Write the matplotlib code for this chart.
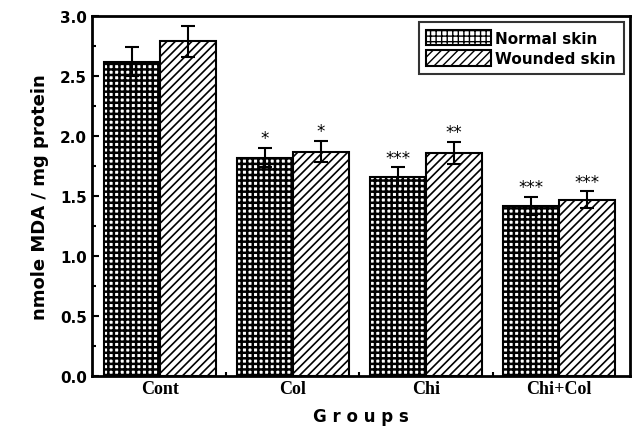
import numpy as np
import matplotlib.pyplot as plt

groups = ['Cont', 'Col', 'Chi', 'Chi+Col']
normal = [2.62, 1.82, 1.66, 1.42]
normal_err = [0.12, 0.08, 0.08, 0.075]
wounded = [2.79, 1.87, 1.86, 1.47]
wounded_err = [0.13, 0.09, 0.09, 0.07]
normal_sig = ['', '*', '***', '***']
wounded_sig = ['', '*', '**', '***']

fig = plt.figure(figsize=(6.38, 4.35), dpi=100)
ax = fig.add_axes([0.144, 0.133, 0.843, 0.828])

x = np.arange(len(groups))
w = 0.42

with plt.rc_context({'hatch.linewidth': 1.8}):
    ax.bar(x - w / 2, normal, w, color='white', edgecolor='black', hatch='+++',
           linewidth=1.5, label='Normal skin')
with plt.rc_context({'hatch.linewidth': 1.2}):
    ax.bar(x + w / 2, wounded, w, color='white', edgecolor='black', hatch='////',
           linewidth=1.5, label='Wounded skin')
ax.errorbar(x - w / 2, normal, yerr=normal_err, fmt='none', ecolor='black',
            capsize=5, elinewidth=1.5, capthick=1.5)
ax.errorbar(x + w / 2, wounded, yerr=wounded_err, fmt='none', ecolor='black',
            capsize=5, elinewidth=1.5, capthick=1.5)

for xi, v, e, s in zip(x - w / 2, normal, normal_err, normal_sig):
    ax.text(xi, v + e + 0.005, s, ha='center', va='bottom', fontsize=12)
for xi, v, e, s in zip(x + w / 2, wounded, wounded_err, wounded_sig):
    ax.text(xi, v + e + 0.005, s, ha='center', va='bottom', fontsize=12)

ax.set_xlim(-0.51, 3.53)
ax.set_ylim(0, 3.0)
ax.set_yticks(np.arange(0, 3.01, 0.5))
ax.set_yticklabels([f'{t:.1f}' for t in np.arange(0, 3.01, 0.5)],
                   fontweight='bold', fontsize=11)
ax.set_yticks(np.arange(0.25, 3.0, 0.5), minor=True)
ax.set_xticks(x)
ax.set_xticklabels(groups, fontfamily='Liberation Serif', fontweight='bold', fontsize=13)
ax.set_xticks(x[:-1] + 0.5, minor=True)
ax.tick_params(axis='both', which='both', direction='in', width=1.5)
ax.tick_params(axis='x', which='major', length=0, pad=3)
ax.tick_params(axis='y', which='major', length=5)
ax.tick_params(axis='both', which='minor', length=3)

for sp in ax.spines.values():
    sp.set_linewidth(2)

ax.set_ylabel('nmole MDA / mg protein', fontweight='bold', fontsize=13, labelpad=8)
ax.set_xlabel('G r o u p s', fontweight='bold', fontsize=12, labelpad=7)

leg = ax.legend(loc='upper right', frameon=True, fancybox=False, edgecolor='black',
                prop={'weight': 'bold', 'size': 11}, handlelength=4.2, handleheight=1.2,
                borderaxespad=0.4, handletextpad=0.3, labelspacing=0.3, borderpad=0.5)
leg.get_frame().set_linewidth(1.5)

fig.savefig('out.png', dpi=100)
